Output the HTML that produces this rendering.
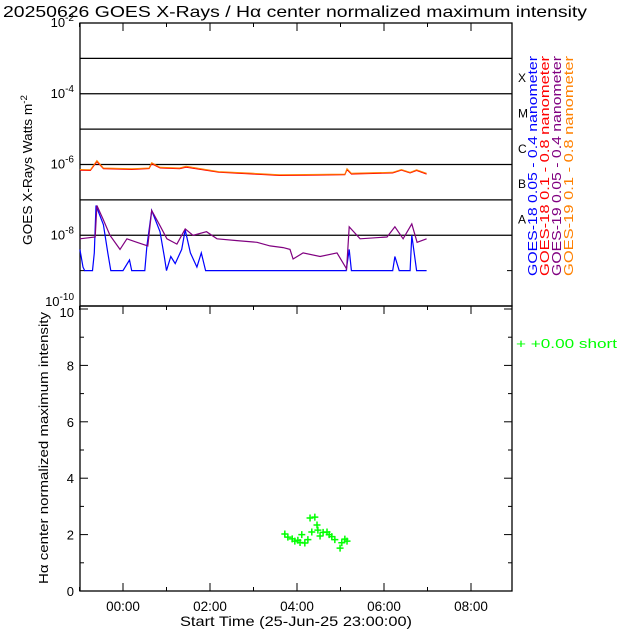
<!DOCTYPE html>
<html><head><meta charset="utf-8"><style>
body{margin:0;background:#fff}
svg{display:block;font-family:"Liberation Sans","DejaVu Sans",sans-serif}
</style></head><body>
<svg id="c" width="640" height="640" viewBox="0 0 640 640"></svg>
<script>
const blueT=[-0.99,-0.92,-0.88,-0.7,-0.66,-0.62,-0.45,-0.35,-0.28,0.0,0.15,0.2,0.5,0.55,0.66,0.85,0.95,1.0,1.1,1.2,1.35,1.43,1.55,1.7,1.8,1.9,5.13,5.2,5.25,6.2,6.25,6.35,6.6,6.64,6.75,6.98];
const blueV=[-8.4,-8.9,-9,-9,-8.5,-7.16,-7.7,-8.5,-9,-9,-8.7,-9,-9,-8.3,-7.3,-7.9,-8.6,-9,-8.6,-8.8,-8.4,-7.85,-8.5,-8.9,-8.5,-9,-9,-8.4,-9,-9,-8.6,-9,-9,-8.0,-9,-9];
const purpleT=[-0.99,-0.64,-0.60,-0.46,-0.30,-0.07,0.09,0.32,0.57,0.66,0.85,1.01,1.24,1.43,1.61,1.92,2.16,2.62,3.08,3.38,3.68,3.84,3.91,4.14,4.53,4.92,5.14,5.20,5.45,6.07,6.25,6.44,6.64,6.76,6.98];
const purpleV=[-8.1,-8.05,-7.16,-7.54,-8.0,-8.4,-8.1,-8.2,-8.3,-7.3,-7.73,-8.1,-8.25,-7.82,-8.0,-7.9,-8.1,-8.15,-8.2,-8.3,-8.35,-8.4,-8.67,-8.5,-8.6,-8.5,-8.95,-7.76,-8.1,-8.05,-7.76,-8.1,-7.68,-8.2,-8.1];
const orangeT=[-0.99,-0.75,-0.6,-0.45,0.2,0.6,0.66,0.85,1.3,1.45,2.2,3.0,3.6,4.5,5.1,5.15,5.25,6.2,6.4,6.6,6.75,6.98];
const orangeV=[-6.14,-6.15,-5.89,-6.1,-6.12,-6.1,-5.95,-6.08,-6.1,-6.05,-6.2,-6.25,-6.29,-6.28,-6.27,-6.12,-6.25,-6.22,-6.14,-6.22,-6.15,-6.25];
const redV=[-6.16,-6.17,-5.92,-6.12,-6.14,-6.12,-5.98,-6.1,-6.12,-6.08,-6.22,-6.27,-6.31,-6.3,-6.29,-6.15,-6.27,-6.24,-6.16,-6.24,-6.17,-6.27];
const greenT=[3.72,3.79,3.89,3.95,4.02,4.11,4.07,4.18,4.25,4.34,4.30,4.41,4.46,4.48,4.53,4.60,4.69,4.74,4.80,4.87,4.99,5.03,5.10,5.15];
const greenV=[2.02,1.91,1.85,1.77,1.80,2.0,1.72,1.70,1.82,2.09,2.59,2.62,2.34,2.16,1.95,2.08,2.09,2.0,1.93,1.82,1.52,1.71,1.84,1.77];
const xTickLabels=["00:00","02:00","04:00","06:00","08:00"];
const yTopExps=[-2,-4,-6,-8,-10];
const yBotTicks=[0,2,4,6,8,10];

const NS="http://www.w3.org/2000/svg";
const svg=document.getElementById('c');
const L=80,R=512,T1=23,B1=306,B2=591,T2=309;
const X=h=>123+h*43.5;
const Y1=e=>T1+(-2-e)*35.375;
const Y2=v=>B2-v*28.2;
function mk(tag,attrs,parent){const e=document.createElementNS(NS,tag);for(const k in attrs)e.setAttribute(k,attrs[k]);(parent||svg).appendChild(e);return e;}
function txt(s,x,y,attrs){const e=mk('text',Object.assign({x:x,y:y,'font-size':13},attrs||{}));e.textContent=s;return e;}

let t=txt("20250626 GOES X-Rays / H\u03b1 center normalized maximum intensity",3,17,{'font-size':16,textLength:584,lengthAdjust:'spacingAndGlyphs'});



let f=mk('rect',{x:L,y:T1,width:R-L,height:B1-T1,fill:'none',stroke:'#000','stroke-width':1.3});


for(let e=-3;e>=-8;e--){
 let l=mk('line',{x1:L,x2:R,y1:Y1(e),y2:Y1(e),stroke:'#000','stroke-width':1.3});
 
 
}
for(let e=-9;e>=-10;e--){mk('line',{x1:L,x2:L+5,y1:Y1(e),y2:Y1(e),stroke:'#000'});mk('line',{x1:R-5,x2:R,y1:Y1(e),y2:Y1(e),stroke:'#000'});}
yTopExps.forEach(e=>{
 let g=mk('text',{x:74,y:Y1(e)+(e===-10?0:4),'font-size':13,'text-anchor':'end'});
 
 
 g.innerHTML='10<tspan dy="-6" font-size="10">'+e+'</tspan>';
});
let yl=mk('text',{transform:'translate(32,170) rotate(-90)','text-anchor':'middle','font-size':12.5,textLength:150,lengthAdjust:'spacingAndGlyphs'});
yl.innerHTML='GOES X-Rays Watts m<tspan dy="-5" font-size="9">-2</tspan>';


["X","M","C","B","A"].forEach((s,i)=>{let c=txt(s,518,Y1(-3.5-i)+6,{'font-size':12});
 
 });
const legend=[["GOES-18 0.05 - 0.4 nanometer","#0000ff"],["GOES-18 0.1 - 0.8 nanometer","#ff0000"],["GOES-19 0.05 - 0.4 nanometer","#800080"],["GOES-19 0.1 - 0.8 nanometer","#ff8000"]];
legend.forEach((d,i)=>{let x=537+i*12;let g=txt(d[0],0,0,{transform:'translate('+x+',276) rotate(-90)',fill:d[1],'font-size':12.5,textLength:220,lengthAdjust:'spacingAndGlyphs'});
 
 });

for(let h=-1;h<=8;h++){
 const len=(h%2===0)?8:4;
 mk('line',{x1:X(h),x2:X(h),y1:T1,y2:T1+len,stroke:'#000'});
 mk('line',{x1:X(h),x2:X(h),y1:B1,y2:B1+len,stroke:'#000'});
 mk('line',{x1:X(h),x2:X(h),y1:B2,y2:B2-len,stroke:'#000'});
}
function series(T,V,color,name,w){
 const d=T.map((h,i)=>(i?'L':'M')+X(h).toFixed(1)+' '+Y1(V[i]).toFixed(1)).join(' ');
 const p=mk('path',{d:d,fill:'none',stroke:color,'stroke-width':w});
 
 
}
series(blueT,blueV,'#0000ff','goes18-short-line',1.2);
series(purpleT,purpleV,'#800080','goes19-short-line',1.2);
series(orangeT,redV,'#ff0000','goes18-long-line',1);
series(orangeT,orangeV,'#ff8000','goes19-long-line',1);

let f2=mk('rect',{x:L,y:B1,width:R-L,height:B2-B1,fill:'none',stroke:'#000','stroke-width':1.3});


for(let v=0;v<=10;v++){const len=v%2===0?8:4;
 mk('line',{x1:L,x2:L+len,y1:Y2(v),y2:Y2(v),stroke:'#000'});
 mk('line',{x1:R-len,x2:R,y1:Y2(v),y2:Y2(v),stroke:'#000'});}
yBotTicks.forEach(v=>{let g=txt(String(v),74,Y2(v)+(v===10?8:5),{'text-anchor':'end'});
 
 });
xTickLabels.forEach((s,i)=>{let g=txt(s,X(i*2),611,{'text-anchor':'middle','font-size':13.5});
 
 });
let xl=txt("Start Time (25-Jun-25 23:00:00)",180,626,{textLength:232,lengthAdjust:'spacingAndGlyphs','font-size':14});


let yl2=txt("H\u03b1 center normalized maximum intensity",0,0,{transform:'translate(48,448) rotate(-90)','text-anchor':'middle','font-size':13,textLength:272,lengthAdjust:'spacingAndGlyphs'});


greenT.forEach((h,i)=>{const x=X(h),y=Y2(greenV[i]);
 const p=mk('path',{d:`M${x-3.5} ${y}H${x+3.5}M${x} ${y-3.5}V${y+3.5}`,stroke:'#00ff00','stroke-width':1.5});
 
 });
let gl=txt("+  +0.00 short",516,348,{fill:'#00ff00','font-size':13,textLength:101,lengthAdjust:'spacingAndGlyphs'});


</script>
</body></html>
